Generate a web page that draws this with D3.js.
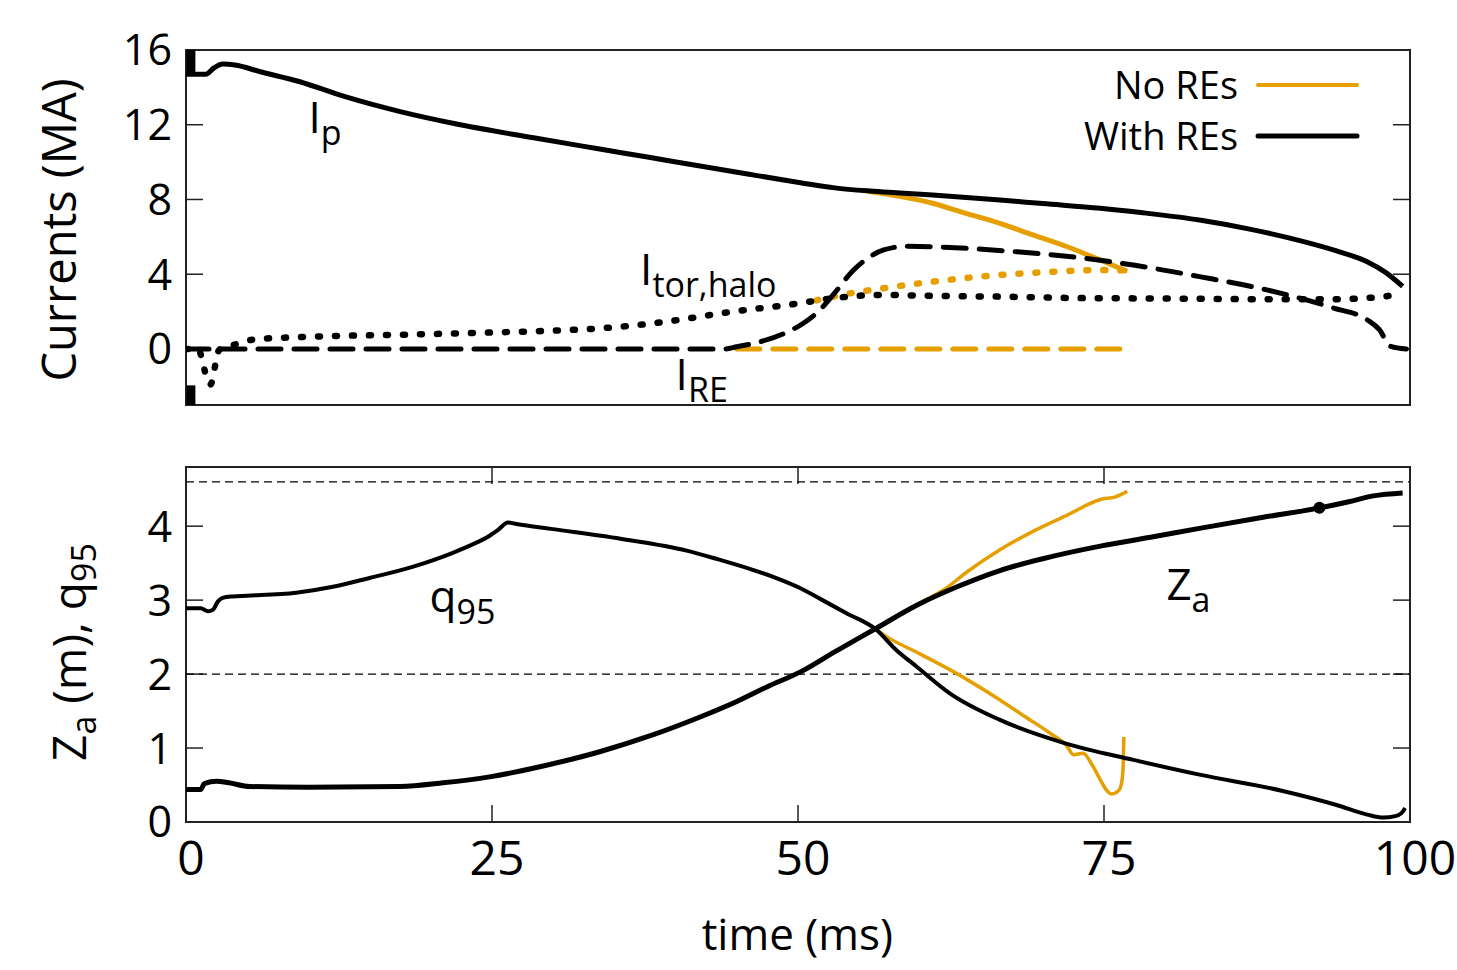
<!DOCTYPE html>
<html>
<head>
<meta charset="utf-8">
<script src="https://cdn.jsdelivr.net/npm/d3@7"></script>
<style>
  body { margin: 0; background: #fff; }
  svg text { font-family: "Open Sans", "Noto Sans", sans-serif; fill: #000; }
</style>
</head>
<body>
<svg id="chart" width="1457" height="970"></svg>
<script>
// ---- data (time in ms) ----
var timeTicks = [0, 25, 50, 75, 100];
var currentTicks = [0, 4, 8, 12, 16];
var lowerTicks = [0, 1, 2, 3, 4];
var refLevels = [2, 4.6];

// top panel, With REs
var ipWith = [[0,14.7],[1.6,14.7],[2.3,15.05],[3,15.25],[4,15.2],[6,14.85],[9.3,14.3],[13,13.5],[17.5,12.7],
  [22,12.05],[28.4,11.3],[33.8,10.7],[37.7,10.27],[42,9.79],[46,9.35],[50.2,8.9],[53,8.62],[55.9,8.45],[58,8.36],
  [61,8.24],[66.5,7.97],[70,7.78],[74.7,7.53],[78,7.3],[82.8,6.9],[87,6.4],[91,5.8],[94,5.25],[96.5,4.67],[98,4.1],[99.4,3.35]];
var reWith = [[0,0],[44,0],[45,0.12],[47,0.4],[49,0.87],[50.5,1.4],[51.8,2.1],[53,3.0],[54.5,4.2],[55.8,4.9],[57,5.3],
  [59,5.5],[62.4,5.43],[67.9,5.2],[73.3,4.86],[77.4,4.49],[82.8,3.87],[88.3,3.16],[93.7,2.2],[96.5,1.56],[97.5,1.03],
  [98.4,0.14],[99.7,0]];
var haloWith = [[0,0],[1.0,0],[1.4,-0.8],[1.7,-1.6],[2.0,-1.9],[2.3,-1.2],[2.5,-0.4],[2.8,0],[3.8,0.2],[5.5,0.5],
  [10,0.65],[17.5,0.76],[25,0.88],[30,0.98],[33.8,1.1],[39.3,1.47],[44.7,2.0],[50.2,2.45],[52.9,2.72],[57,2.89],[61,2.84],
  [66.5,2.8],[73.3,2.72],[80,2.7],[88.3,2.66],[93.7,2.66],[97.8,2.8],[99.2,2.98]];
var startSpikeHigh = [[0.4,14.8],[0.4,18]];
var startSpikeLow = [[0.4,-1.95],[0.4,-4]];

// top panel, No REs
var ipNo = [[55.6,8.45],[58,8.2],[61,7.8],[63.5,7.3],[66.5,6.72],[69,6.15],[72,5.47],[74.7,4.76],[76.9,4.15]];
var reNo = [[45,0],[76.9,0]];
var haloNo = [[51.5,2.6],[54,2.95],[57,3.25],[61,3.6],[66.5,3.96],[70,4.1],[74.7,4.22],[76.9,4.2]];

// bottom panel, With REs
var q95With = [[0,2.89],[1.2,2.89],[1.8,2.85],[2.2,2.87],[2.6,2.98],[3,3.03],[3.8,3.05],[5,3.06],[9,3.1],[12,3.18],
  [15,3.3],[18.5,3.45],[21.8,3.64],[23.5,3.76],[24.6,3.85],[25.5,3.95],[26.3,4.05],[27,4.03],[30,3.96],[35.5,3.83],
  [40.9,3.67],[43.5,3.55],[46.3,3.41],[48.5,3.28],[50.2,3.16],[52,3.0],[54,2.82],[56.4,2.6],[58,2.33],[59.7,2.1],
  [62.4,1.74],[66.5,1.38],[71.9,1.06],[77.4,0.84],[82.8,0.64],[89.6,0.42],[94,0.23],[96.5,0.1],[97.8,0.06],[98.8,0.08],
  [99.3,0.12],[99.6,0.19]];
var zaWith = [[0,0.44],[1.2,0.44],[1.5,0.52],[2.5,0.55],[3.5,0.53],[5.2,0.48],[10,0.47],[17.5,0.48],[21,0.53],[24.8,0.61],
  [29,0.75],[33.8,0.95],[38,1.17],[42,1.42],[45,1.63],[47.5,1.83],[50.2,2.03],[53,2.3],[56.4,2.62],[59.7,2.93],
  [63,3.18],[66.5,3.4],[70,3.56],[74.7,3.73],[78.8,3.85],[82.8,3.97],[88,4.12],[92.4,4.24],[95,4.33],[97,4.41],[99.4,4.45]];
var zaBlob = [[92.6,4.25]];

// bottom panel, No REs
var q95No = [[56.4,2.6],[57.2,2.51],[60,2.27],[62.4,2.06],[66.5,1.65],[68.5,1.43],[70.6,1.2],[72,1.02],[72.5,0.91],
  [73.3,0.93],[74,0.78],[74.7,0.57],[75.2,0.43],[75.6,0.38],[76,0.4],[76.3,0.45],[76.5,0.6],[76.58,0.84],[76.62,1.15]];
var zaNo = [[58.5,2.81],[60,2.96],[62,3.15],[63.8,3.38],[66.5,3.68],[69.2,3.93],[72,4.15],[74.7,4.36],[76,4.4],[76.9,4.47]];

var ORANGE = '#e69f00';

var svg = d3.select('#chart');

var x = d3.scaleLinear().domain([0, 100]).range([186, 1410]);
var yTop = d3.scaleLinear().domain([-3, 16]).range([405, 50]);
var yBot = d3.scaleLinear().domain([0, 4.8]).range([822, 467]);

function addClip(id, y) {
  svg.append('clipPath').attr('id', id)
    .append('rect')
    .attr('x', x.range()[0]).attr('y', y.range()[1])
    .attr('width', x.range()[1] - x.range()[0])
    .attr('height', y.range()[0] - y.range()[1]);
}
addClip('clipTop', yTop);
addClip('clipBot', yBot);

function drawSeries(g, y, data, color, width, dash, curve) {
  var line = d3.line()
    .x(function(d) { return x(d[0]); })
    .y(function(d) { return y(d[1]); })
    .curve(curve || d3.curveMonotoneX);
  g.append('path')
    .datum(data)
    .attr('d', line)
    .attr('fill', 'none')
    .attr('stroke', color)
    .attr('stroke-width', width)
    .attr('stroke-linecap', dash ? 'round' : 'butt')
    .attr('stroke-linejoin', 'round')
    .attr('stroke-dasharray', dash || null);
}

function drawFrame(y, ticks, xTicksBottom, xTicksTop) {
  var g = svg.append('g');
  var x0 = x.range()[0], x1 = x.range()[1];
  var tl = 17;

  g.selectAll('.ytl').data(ticks).enter().append('line')
    .attr('x1', x0).attr('x2', x0 + tl)
    .attr('y1', function(d) { return y(d); }).attr('y2', function(d) { return y(d); });
  g.selectAll('.ytr').data(ticks).enter().append('line')
    .attr('x1', x1 - tl).attr('x2', x1)
    .attr('y1', function(d) { return y(d); }).attr('y2', function(d) { return y(d); });

  g.selectAll('.xtb').data(xTicksBottom).enter().append('line')
    .attr('x1', function(d) { return x(d); }).attr('x2', function(d) { return x(d); })
    .attr('y1', y.range()[0]).attr('y2', y.range()[0] - tl);
  g.selectAll('.xtt').data(xTicksTop).enter().append('line')
    .attr('x1', function(d) { return x(d); }).attr('x2', function(d) { return x(d); })
    .attr('y1', y.range()[1]).attr('y2', y.range()[1] + tl);

  g.selectAll('line').attr('stroke', '#222').attr('stroke-width', 1.5);

  g.append('rect')
    .attr('x', x0).attr('y', y.range()[1])
    .attr('width', x1 - x0).attr('height', y.range()[0] - y.range()[1])
    .attr('fill', 'none').attr('stroke', '#222').attr('stroke-width', 2);

  g.selectAll('.ylab').data(ticks).enter().append('text')
    .attr('x', 172).attr('y', function(d) { return y(d); })
    .attr('dy', '0.36em')
    .attr('text-anchor', 'end')
    .style('font-size', '43px')
    .text(function(d) { return d; });
  return g;
}

// ---- top panel ----
drawFrame(yTop, currentTicks, [], []);
var topG = svg.append('g').attr('clip-path', 'url(#clipTop)');
drawSeries(topG, yTop, reNo, ORANGE, 5, '23,13');
drawSeries(topG, yTop, haloNo, ORANGE, 6.5, '2,15');
drawSeries(topG, yTop, ipNo, ORANGE, 5);
drawSeries(topG, yTop, reWith, '#000', 5, '23,13');
drawSeries(topG, yTop, haloWith, '#000', 6.5, '2,15');
drawSeries(topG, yTop, ipWith, '#000', 5);
drawSeries(topG, yTop, startSpikeHigh, '#000', 9, null, d3.curveLinear);
drawSeries(topG, yTop, startSpikeLow, '#000', 9, null, d3.curveLinear);

// ---- bottom panel ----
drawFrame(yBot, lowerTicks, timeTicks, [25, 50, 75]);
var botG = svg.append('g').attr('clip-path', 'url(#clipBot)');
botG.selectAll('.ref').data(refLevels).enter().append('line')
  .attr('x1', x(0)).attr('x2', x(100))
  .attr('y1', function(d) { return yBot(d); }).attr('y2', function(d) { return yBot(d); })
  .attr('stroke', '#000').attr('stroke-width', 1.3).attr('stroke-dasharray', '8,5');
drawSeries(botG, yBot, zaNo, ORANGE, 3.5);
drawSeries(botG, yBot, q95No, ORANGE, 3.5);
drawSeries(botG, yBot, q95With, '#000', 4);
drawSeries(botG, yBot, zaWith, '#000', 5);
botG.selectAll('.blob').data(zaBlob).enter().append('circle')
  .attr('cx', function(d) { return x(d[0]); }).attr('cy', function(d) { return yBot(d[1]); })
  .attr('r', 6).attr('fill', '#000');

// x tick labels
svg.selectAll('.xlab').data(timeTicks).enter().append('text')
  .attr('x', function(d) { return x(d) + 5; }).attr('y', 875)
  .attr('text-anchor', 'middle')
  .style('font-size', '48px')
  .text(function(d) { return d; });

// axis titles
svg.append('text')
  .attr('transform', 'translate(893,950)')
  .attr('text-anchor', 'end')
  .style('font-size', '44px')
  .text('time (ms)');

svg.append('text')
  .attr('transform', 'translate(76,230) rotate(-90)')
  .attr('text-anchor', 'middle')
  .style('font-size', '47px')
  .text('Currents (MA)');

var zl = svg.append('text')
  .attr('transform', 'translate(86,652) rotate(-90)')
  .attr('text-anchor', 'middle')
  .style('font-size', '46px');
zl.append('tspan').text('Z');
zl.append('tspan').attr('dy', 10).style('font-size', '34px').text('a');
zl.append('tspan').attr('dy', -10).text(' (m), q');
zl.append('tspan').attr('dy', 10).style('font-size', '34px').text('95');

// curve labels
function label(y, t, v, main, sub) {
  var txt = svg.append('text')
    .attr('x', x(t)).attr('y', y(v))
    .style('font-size', '44px');
  txt.append('tspan').text(main);
  txt.append('tspan').attr('dy', 12).style('font-size', '34px').text(sub);
}
label(yTop, 10, 11.56, 'I', 'p');
label(yTop, 37.1, 3.42, 'I', 'tor,halo');
label(yTop, 40.0, -2.2, 'I', 'RE');
label(yBot, 19.9, 2.84, 'q', '95');
label(yBot, 80.1, 3.0, 'Z', 'a');

// legend
var legend = [
  { name: 'No REs', color: ORANGE, width: 4, y: 85 },
  { name: 'With REs', color: '#000', width: 5, y: 136 }
];
var lg = svg.append('g');
lg.selectAll('text').data(legend).enter().append('text')
  .attr('x', 1238).attr('y', function(d) { return d.y; })
  .attr('dy', '0.36em')
  .attr('text-anchor', 'end')
  .style('font-size', '38px')
  .text(function(d) { return d.name; });
lg.selectAll('line').data(legend).enter().append('line')
  .attr('x1', 1258).attr('x2', 1357)
  .attr('y1', function(d) { return d.y; }).attr('y2', function(d) { return d.y; })
  .attr('stroke', function(d) { return d.color; })
  .attr('stroke-width', function(d) { return d.width; })
  .attr('stroke-linecap', 'round');
</script>
</body>
</html>
